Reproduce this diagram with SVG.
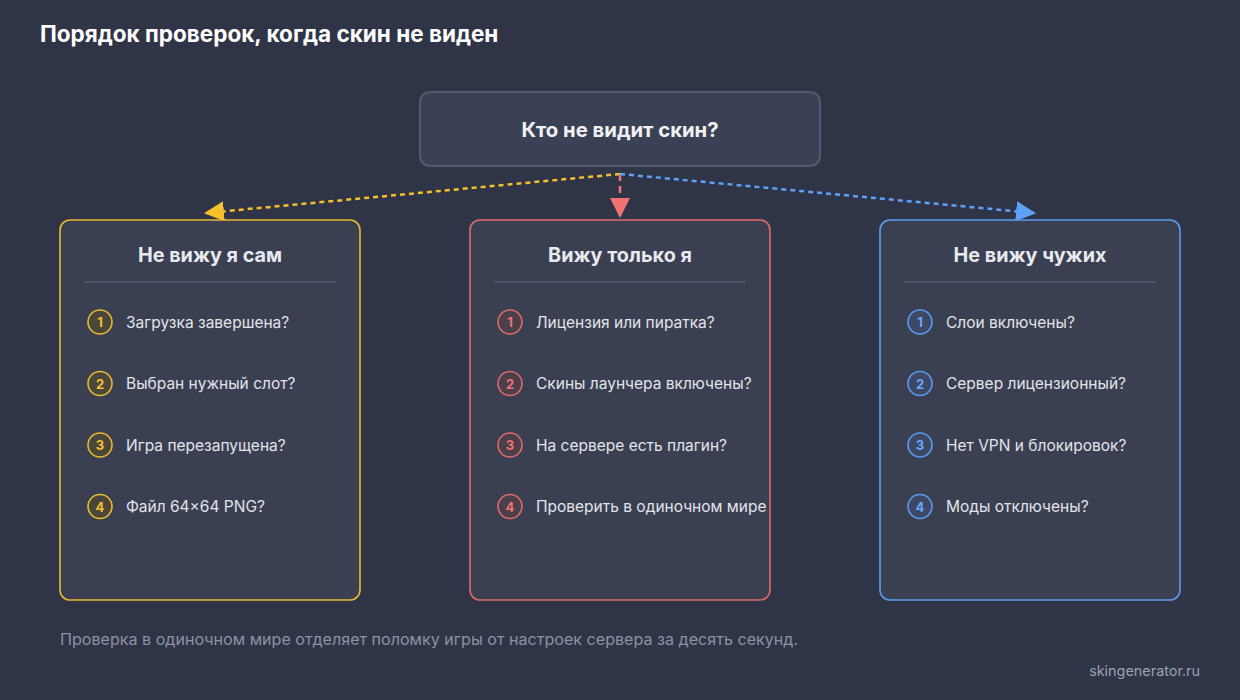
<svg xmlns="http://www.w3.org/2000/svg" width="1240" height="700" viewBox="0 0 1240 700">
<style>
text{font-family:Inter,"Liberation Sans",Arial,sans-serif}
.title{font-size:22.5px;font-weight:bold;fill:#ffffff}
.q{font-size:20.3px;font-weight:bold;fill:#f0f1f5}
.ct{font-size:19.8px;font-weight:bold;fill:#e8e9ef;text-anchor:middle}
.it{font-size:15.5px;fill:#e2e4ea}
.num{font-size:13px;font-weight:bold;text-anchor:middle}
.card{fill:#3a4052;stroke-width:1.6}
.div{stroke:#4c5469;stroke-width:2}
.foot{font-size:16.1px;fill:#8c92a3}
.brand{font-size:14.4px;fill:#9aa0b0;text-anchor:end}
</style>
<defs>
<marker id="ay" viewBox="0 0 10 10" refX="9" refY="5" markerWidth="20" markerHeight="20" markerUnits="userSpaceOnUse" orient="auto"><path d="M0,0 L10,5 L0,10 z" fill="#f6c02c"/></marker>
<marker id="ar" viewBox="0 0 10 10" refX="9" refY="5" markerWidth="20" markerHeight="20" markerUnits="userSpaceOnUse" orient="auto"><path d="M0,0 L10,5 L0,10 z" fill="#f07272"/></marker>
<marker id="ab" viewBox="0 0 10 10" refX="9" refY="5" markerWidth="20" markerHeight="20" markerUnits="userSpaceOnUse" orient="auto"><path d="M0,0 L10,5 L0,10 z" fill="#5ea2f6"/></marker>
</defs>
<rect width="1240" height="700" fill="#2f3547"/>
<text class="title" x="40" y="42">Порядок проверок, когда скин не виден</text>

<g id="root">
<rect x="420" y="92" width="400" height="74" rx="10" fill="#3b4154" stroke="#535b70" stroke-width="2"/>
<text class="q" x="620" y="137" text-anchor="middle">Кто не видит скин?</text>
</g>

<g id="connectors" fill="none" stroke-width="2.5">
<line x1="620" y1="174" x2="206" y2="213" stroke="#f6c02c" stroke-dasharray="5 4" marker-end="url(#ay)"/>
<line x1="620" y1="174" x2="620" y2="216" stroke="#f07272" stroke-dasharray="7 5" marker-end="url(#ar)"/>
<line x1="620" y1="174" x2="1034" y2="213" stroke="#5ea2f6" stroke-dasharray="5 4" marker-end="url(#ab)"/>
</g>

<g id="card-self">
<rect class="card" x="60" y="220" width="300" height="380" rx="10" stroke="#e9b931"/>
<text class="ct" x="210" y="262">Не вижу я сам</text>
<line class="div" x1="84" y1="282" x2="336" y2="282"/>
<g fill="#4a4639" stroke="#e9b931" stroke-width="1.6">
<circle cx="100" cy="322" r="12"/><circle cx="100" cy="383.5" r="12"/><circle cx="100" cy="445" r="12"/><circle cx="100" cy="506.5" r="12"/>
</g>
<g fill="#f3c233"><text class="num" x="100" y="327">1</text><text class="num" x="100" y="388.5">2</text><text class="num" x="100" y="450">3</text><text class="num" x="100" y="511.5">4</text></g>
<text class="it" x="126" y="327.5">Загрузка завершена?</text>
<text class="it" x="126" y="389">Выбран нужный слот?</text>
<text class="it" x="126" y="450.5">Игра перезапущена?</text>
<text class="it" x="126" y="512">Файл 64×64 PNG?</text>
</g>

<g id="card-only-me">
<rect class="card" x="470" y="220" width="300" height="380" rx="10" stroke="#e06a6a"/>
<text class="ct" x="620" y="262">Вижу только я</text>
<line class="div" x1="494" y1="282" x2="746" y2="282"/>
<g fill="#4b3f4a" stroke="#e06a6a" stroke-width="1.6">
<circle cx="510" cy="322" r="12"/><circle cx="510" cy="383.5" r="12"/><circle cx="510" cy="445" r="12"/><circle cx="510" cy="506.5" r="12"/>
</g>
<g fill="#f07272"><text class="num" x="510" y="327">1</text><text class="num" x="510" y="388.5">2</text><text class="num" x="510" y="450">3</text><text class="num" x="510" y="511.5">4</text></g>
<text class="it" x="536" y="327.5">Лицензия или пиратка?</text>
<text class="it" x="536" y="389">Скины лаунчера включены?</text>
<text class="it" x="536" y="450.5">На сервере есть плагин?</text>
<text class="it" x="536" y="512">Проверить в одиночном мире</text>
</g>

<g id="card-others">
<rect class="card" x="880" y="220" width="300" height="380" rx="10" stroke="#5a9cf0"/>
<text class="ct" x="1030" y="262">Не вижу чужих</text>
<line class="div" x1="904" y1="282" x2="1156" y2="282"/>
<g fill="#3c4866" stroke="#5a9cf0" stroke-width="1.6">
<circle cx="920" cy="322" r="12"/><circle cx="920" cy="383.5" r="12"/><circle cx="920" cy="445" r="12"/><circle cx="920" cy="506.5" r="12"/>
</g>
<g fill="#6aa8f8"><text class="num" x="920" y="327">1</text><text class="num" x="920" y="388.5">2</text><text class="num" x="920" y="450">3</text><text class="num" x="920" y="511.5">4</text></g>
<text class="it" x="946" y="327.5">Слои включены?</text>
<text class="it" x="946" y="389">Сервер лицензионный?</text>
<text class="it" x="946" y="450.5">Нет VPN и блокировок?</text>
<text class="it" x="946" y="512">Моды отключены?</text>
</g>

<text class="foot" x="60" y="645">Проверка в одиночном мире отделяет поломку игры от настроек сервера за десять секунд.</text>
<text class="brand" x="1200" y="676">skingenerator.ru</text>
</svg>
